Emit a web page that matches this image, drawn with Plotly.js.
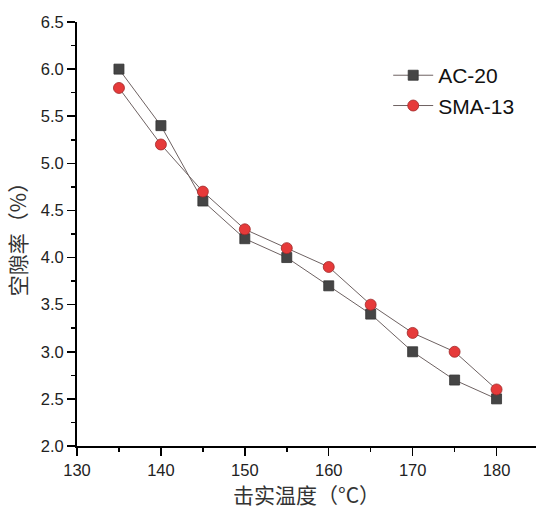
<!DOCTYPE html>
<html><head><meta charset="utf-8">
<script src="https://cdn.plot.ly/plotly-3.0.1.min.js"></script>
<style>body{margin:0;padding:0;background:#fff}#c{width:536px;height:510px}</style>
</head><body><div id="c"></div>
<script>
const temps = [135, 140, 145, 150, 155, 160, 165, 170, 175, 180];
const ac20 = [6.0, 5.4, 4.6, 4.2, 4.0, 3.7, 3.4, 3.0, 2.7, 2.5];
const sma13 = [5.8, 5.2, 4.7, 4.3, 4.1, 3.9, 3.5, 3.2, 3.0, 2.6];
const seriesNames = ['AC-20', 'SMA-13'];

const traces = [
  {x: temps, y: ac20, name: seriesNames[0], mode: 'lines+markers', type: 'scatter',
   line: {color: '#6e6262', width: 1},
   marker: {symbol: 'square', size: 10, color: '#454545', line: {color: '#333', width: 0.8}}},
  {x: temps, y: sma13, name: seriesNames[1], mode: 'lines+markers', type: 'scatter',
   line: {color: '#6e6262', width: 1},
   marker: {symbol: 'circle', size: 11, color: '#e63a3a', line: {color: '#a02828', width: 0.8}}}
];

const axisFont = {family: 'Liberation Sans, Arial, sans-serif', size: 16.5, color: '#222'};
const titleFont = {family: 'Noto Sans CJK SC, sans-serif', size: 21, color: '#333'};
const layout = {
  width: 536, height: 510,
  margin: {l: 77, r: 0, t: 22, b: 64},
  paper_bgcolor: '#fff', plot_bgcolor: '#fff',
  showlegend: true,
  legend: {x: 0.678, y: 0.922, xanchor: 'left', yanchor: 'top',
           font: {family: 'Liberation Sans, Arial, sans-serif', size: 21, color: '#111'},
           bgcolor: 'rgba(0,0,0,0)', tracegroupgap: 0, itemwidth: 40},
  xaxis: {range: [130, 184.7], tickmode: 'linear', tick0: 130, dtick: 10,
          showline: true, linecolor: '#000', linewidth: 2, showgrid: false, zeroline: false,
          ticks: 'outside', ticklen: 8, tickwidth: 1.5, tickcolor: '#000',
          minor: {dtick: 5, ticks: 'outside', ticklen: 4, tickwidth: 1.5, tickcolor: '#000', showgrid: false},
          tickfont: axisFont,
          title: {text: '击实温度（°C）', font: titleFont, standoff: 11}},
  yaxis: {range: [2.0, 6.5], tickmode: 'linear', tick0: 2.0, dtick: 0.5, tickformat: '.1f',
          showline: true, linecolor: '#000', linewidth: 2, showgrid: false, zeroline: false,
          ticks: 'outside', ticklen: 8, tickwidth: 1.5, tickcolor: '#000',
          minor: {dtick: 0.25, ticks: 'outside', ticklen: 4, tickwidth: 1.5, tickcolor: '#000', showgrid: false},
          tickfont: axisFont,
          title: {text: '空隙率（%）', font: titleFont, standoff: 8}}
};
Plotly.newPlot('c', traces, layout, {displayModeBar: false, staticPlot: true});
</script></body></html>
